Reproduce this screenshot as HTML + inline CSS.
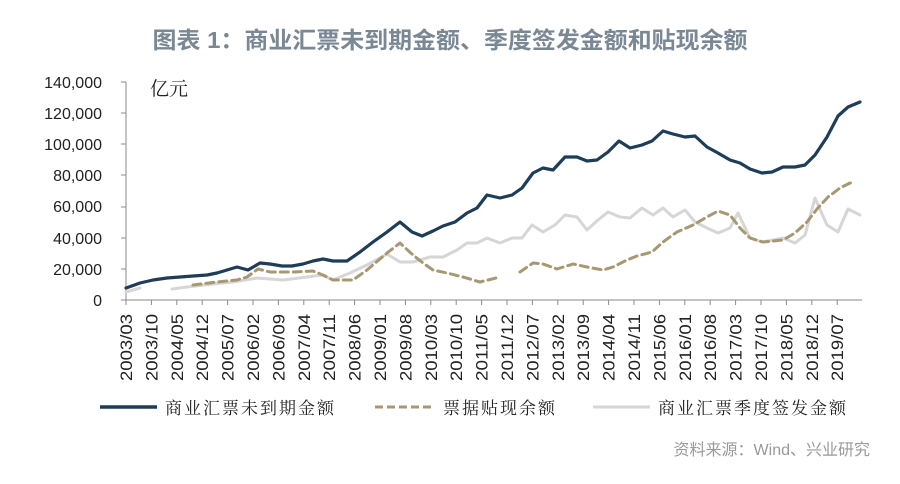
<!DOCTYPE html>
<html><head><meta charset="utf-8"><style>
body{margin:0;background:#fff;}
svg{display:block;}
.t{font-family:"Liberation Sans","Noto Sans CJK SC",sans-serif;}
.k{font-family:"Noto Serif CJK SC","Noto Sans CJK SC",serif;}
</style></head><body>
<svg width="900" height="484" viewBox="0 0 900 484" xmlns="http://www.w3.org/2000/svg">
<text x="450" y="48" text-anchor="middle" class="t" font-size="23" font-weight="bold" fill="#7a8794" textLength="595" lengthAdjust="spacingAndGlyphs">图表 1：商业汇票未到期金额、季度签发金额和贴现余额</text>
<g class="t" font-size="16" fill="#222" text-anchor="end">
<text x="102" y="88">140,000</text>
<text x="102" y="119">120,000</text>
<text x="102" y="150">100,000</text>
<text x="102" y="181">80,000</text>
<text x="102" y="212">60,000</text>
<text x="102" y="244">40,000</text>
<text x="102" y="275">20,000</text>
<text x="102" y="306">0</text>
</g>
<text x="150" y="95" class="k" font-size="19" fill="#222">亿元</text>
<g stroke="#888" stroke-width="1" fill="none">
<line x1="126" y1="82" x2="126" y2="300"/>
<line x1="121" y1="82" x2="126" y2="82"/><line x1="121" y1="113" x2="126" y2="113"/><line x1="121" y1="144" x2="126" y2="144"/><line x1="121" y1="175" x2="126" y2="175"/><line x1="121" y1="207" x2="126" y2="207"/><line x1="121" y1="238" x2="126" y2="238"/><line x1="121" y1="269" x2="126" y2="269"/><line x1="121" y1="300" x2="126" y2="300"/>
<line x1="126" y1="300" x2="862" y2="300"/>
</g>
<g id="xt" class="t" font-size="17" fill="#222"></g>
<g fill="none" stroke-linejoin="round" stroke-linecap="round">
<polyline stroke="#d6d6d6" stroke-width="3" points="126,292 140,288"/>
<polyline stroke="#d6d6d6" stroke-width="3" points="172,289 187,287 213,284 233,282 257,278 283,280 307,277 322,275 333,280 350,273 367,265 387,254 400,262 413,262 430,257 443,257 457,250 467,243 477,243 487,238 500,243 512,238 522,238 532,225 543,232 555,225 565,215 577,217 587,230 598,220 608,212 620,217 630,218 642,208 653,215 663,208 673,217 685,210 695,222 707,228 718,233 730,228 738,213 750,238 762,242 773,240 783,238 795,243 805,235 815,198 827,225 838,232 848,209 860,215"/>
<polyline stroke="#a89872" stroke-width="3" stroke-dasharray="8,5" points="193,285 217,282 237,280 247,277 258,269 270,272 293,272 313,271 323,275 333,280 353,280 367,270 387,253 400,243 413,255 423,263 433,270 447,273 463,277 480,282 500,277"/>
<polyline stroke="#a89872" stroke-width="3" stroke-dasharray="8,5" points="520,272 533,263 543,264 557,269 573,264 587,267 603,270 613,267 627,260 637,256 652,252 663,242 677,232 693,225 707,217 718,211 730,215 740,228 750,238 763,242 783,240 795,233 807,222 817,209 828,197 840,188 850,183 855,183"/>
<polyline stroke="#1d3d58" stroke-width="3.2" points="126,288 140,283 153,280 167,278 180,277 193,276 207,275 217,273 227,270 237,267 248,270 260,263 270,264 282,266 292,266 303,264 313,261 323,259 333,261 347,261 360,252 373,242 387,232 400,222 412,232 422,236 433,231 443,226 455,222 467,213 477,208 487,195 500,198 512,195 522,188 533,173 543,168 553,170 565,157 577,157 587,161 597,160 608,152 619,141 630,148 642,145 652,141 663,131 673,134 685,137 695,136 707,147 718,153 730,160 740,163 750,169 762,173 772,172 783,167 795,167 805,165 815,155 827,137 838,116 848,107 860,102"/>
</g>
<line x1="100" y1="407" x2="157" y2="407" stroke="#1d3d58" stroke-width="3.5"/>
<text x="165" y="414" class="k" font-size="17" fill="#222" letter-spacing="2">商业汇票未到期金额</text>
<line x1="375" y1="407" x2="435" y2="407" stroke="#a89872" stroke-width="3" stroke-dasharray="8,4"/>
<text x="443" y="414" class="k" font-size="17" fill="#222" letter-spacing="2">票据贴现余额</text>
<line x1="593" y1="407" x2="650" y2="407" stroke="#d6d6d6" stroke-width="3"/>
<text x="658" y="414" class="k" font-size="17" fill="#222" letter-spacing="2">商业汇票季度签发金额</text>
<text x="870" y="455" text-anchor="end" class="t" font-size="16" fill="#9a9a9a">资料来源：Wind、兴业研究</text>
</svg>
<script>
var labs=["2003/03","2003/10","2004/05","2004/12","2005/07","2006/02","2006/09","2007/04","2007/11","2008/06","2009/01","2009/08","2010/03","2010/10","2011/05","2011/12","2012/07","2013/02","2013/09","2014/04","2014/11","2015/06","2016/01","2016/08","2017/03","2017/10","2018/05","2018/12","2019/07"];
var g=document.getElementById('xt'),s="";
for(var i=0;i<labs.length;i++){var x=126+i*25.4;
s+='<line x1="'+x+'" y1="300" x2="'+x+'" y2="305" stroke="#888"/>';
s+='<text transform="translate('+(x+6)+',381) rotate(-90)" textLength="67" lengthAdjust="spacingAndGlyphs">'+labs[i]+'</text>';}
g.innerHTML=s;
</script>
</body></html>
